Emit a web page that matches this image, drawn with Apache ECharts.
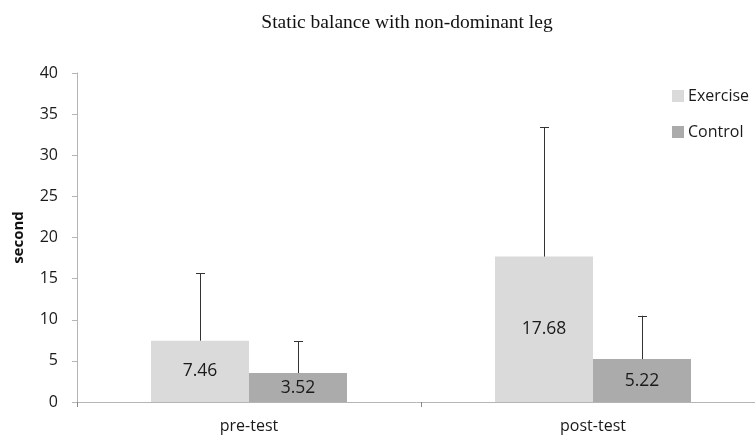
<!DOCTYPE html>
<html>
<head>
<meta charset="utf-8">
<script src="https://cdn.jsdelivr.net/npm/echarts@6/dist/echarts.min.js"></script>
<style>html,body{margin:0;padding:0;background:#fff}#c{width:755px;height:438px}</style>
</head>
<body>
<div id="c"></div>
<script>
const categories = ['pre-test', 'post-test'];
const exerciseMean = [7.46, 17.68];
const exerciseSD = [8.19, 15.72];
const controlMean = [3.52, 5.22];
const controlSD = [3.90, 5.27];
const yTicks = [0, 5, 10, 15, 20, 25, 30, 35, 40];

const BAR_W = 98;
const FONT = '"Open Sans", "Liberation Sans", sans-serif';
const chart = echarts.init(document.getElementById('c'), null, {renderer: 'canvas'});

function errSeries(mean, sd, shift) {
  return {
    type: 'custom',
    silent: true,
    z: 5,
    data: mean.map((m, i) => [i, m, m + sd[i]]),
    renderItem: function (params, api) {
      const lo = api.coord([api.value(0), api.value(1)]);
      const hi = api.coord([api.value(0), api.value(2)]);
      const x = Math.round(lo[0] + shift) + 0.5;
      const st = {stroke: '#333', lineWidth: 1};
      return {
        type: 'group',
        children: [
          {type: 'line', shape: {x1: x, y1: lo[1], x2: x, y2: hi[1]}, style: st},
          {type: 'line', shape: {x1: x - 4.5, y1: Math.round(hi[1]) + 0.5, x2: x + 4.5, y2: Math.round(hi[1]) + 0.5}, style: st}
        ]
      };
    }
  };
}

const labelStyle = {show: true, position: 'inside', color: '#1a1a1a', fontSize: 17.5, fontFamily: FONT,
  formatter: p => p.value.toFixed(2)};

chart.setOption({
  animation: false,
  title: {
    text: 'Static balance with non-dominant leg',
    left: 402, top: 8, textAlign: 'center',
    textStyle: {fontFamily: '"Liberation Serif", "Times New Roman", serif', fontSize: 19.5, fontWeight: 'normal', color: '#111'}
  },
  legend: {
    orient: 'vertical', left: 667, top: 83,
    itemWidth: 12, itemHeight: 12, itemGap: 20,
    icon: 'rect',
    textStyle: {fontFamily: FONT, fontSize: 16, color: '#1a1a1a', padding: [0, 0, 0, -1]},
    data: ['Exercise', 'Control']
  },
  grid: {left: 77, width: 688, top: 73, height: 329, containLabel: false, outerBoundsMode: 'none'},
  xAxis: {
    type: 'category', data: categories,
    axisLine: {lineStyle: {color: '#b5b5b5', width: 1}},
    axisTick: {show: true, length: 5, lineStyle: {color: '#888'}},
    axisLabel: {fontFamily: FONT, fontSize: 16, color: '#1a1a1a', margin: 16}
  },
  yAxis: {
    type: 'value', min: yTicks[0], max: yTicks[yTicks.length - 1], interval: 5,
    name: 'second', nameLocation: 'middle', nameGap: 51,
    nameTextStyle: {fontFamily: FONT, fontSize: 15, fontWeight: 'bold', color: '#111'},
    axisLine: {show: true, lineStyle: {color: '#b5b5b5', width: 1}},
    axisTick: {show: true, length: 5, lineStyle: {color: '#b5b5b5'}},
    splitLine: {show: false},
    axisLabel: {fontFamily: FONT, fontSize: 16, color: '#1a1a1a', margin: 19}
  },
  series: [
    {name: 'Exercise', type: 'bar', data: exerciseMean, barWidth: BAR_W, barGap: '0%',
      itemStyle: {color: '#dadada'}, label: labelStyle},
    {name: 'Control', type: 'bar', data: controlMean, barWidth: BAR_W, barGap: '0%',
      itemStyle: {color: '#ababab'}, label: labelStyle},
    errSeries(exerciseMean, exerciseSD, -BAR_W / 2),
    errSeries(controlMean, controlSD, BAR_W / 2)
  ]
});
</script>
</body>
</html>
